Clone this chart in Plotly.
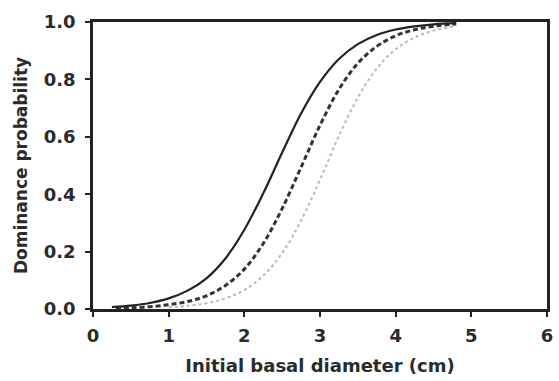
import plotly.graph_objects as go

# Initial basal diameter (cm) at which each fitted curve is sampled
diam_solid = [0.25, 0.5, 0.75, 1.0, 1.25, 1.5, 1.75, 2.0, 2.25, 2.5, 2.75, 3.0,
              3.25, 3.5, 3.75, 4.0, 4.25, 4.5, 4.8]
prob_solid = [0.007, 0.012, 0.021, 0.037, 0.064, 0.107, 0.176, 0.276, 0.403, 0.545,
              0.681, 0.791, 0.871, 0.923, 0.955, 0.974, 0.985, 0.992, 0.996]

diam_dash = [0.3, 0.5, 0.75, 1.0, 1.25, 1.5, 1.75, 2.0, 2.25, 2.5, 2.75, 3.0,
             3.25, 3.5, 3.75, 4.0, 4.25, 4.5, 4.8]
prob_dash = [0.003, 0.004, 0.008, 0.015, 0.026, 0.046, 0.082, 0.139, 0.228, 0.350,
             0.494, 0.640, 0.765, 0.856, 0.915, 0.952, 0.973, 0.985, 0.993]

diam_dot = [1.0, 1.25, 1.5, 1.75, 2.0, 2.25, 2.5, 2.75, 3.0, 3.25, 3.5, 3.75,
            4.0, 4.25, 4.5, 4.8]
prob_dot = [0.006, 0.011, 0.020, 0.037, 0.066, 0.116, 0.195, 0.308, 0.450, 0.603,
            0.737, 0.838, 0.905, 0.946, 0.970, 0.985]

x_ticks = [0, 1, 2, 3, 4, 5, 6]
y_ticks = [0.0, 0.2, 0.4, 0.6, 0.8, 1.0]

FONT = "DejaVu Sans"
INK = "#2b2b2b"

fig = go.Figure()
fig.add_trace(go.Scatter(x=diam_dot, y=prob_dot, mode="lines", line_shape="spline",
                         line=dict(color="#b8b8b8", width=2, dash="dot")))
fig.add_trace(go.Scatter(x=diam_dash, y=prob_dash, mode="lines", line_shape="spline",
                         line=dict(color="#333333", width=3, dash="5px,3px")))
fig.add_trace(go.Scatter(x=diam_solid, y=prob_solid, mode="lines", line_shape="spline",
                         line=dict(color="#222222", width=2.2)))

fig.update_layout(
    width=559, height=381,
    margin=dict(l=93, r=6, t=22, b=72),
    paper_bgcolor="white", plot_bgcolor="white",
    showlegend=False,
    font=dict(family=FONT, color=INK),
)
fig.update_xaxes(
    range=[0, 6], tickvals=x_ticks, ticktext=[str(v) for v in x_ticks],
    showgrid=False, zeroline=False,
    showline=True, linecolor="#222", linewidth=2.5, mirror=True,
    ticks="outside", ticklen=5, tickwidth=2, tickcolor="#222",
    tickfont=dict(family=FONT, size=18, color=INK, weight="bold"),
    ticklabelstandoff=4,
    title=dict(text="<b>Initial basal diameter (cm)</b>",
               font=dict(family=FONT, size=18, color=INK), standoff=15),
)
fig.update_yaxes(
    range=[0, 1], tickvals=y_ticks, ticktext=[f"{v:.1f}" for v in y_ticks],
    showgrid=False, zeroline=False,
    showline=True, linecolor="#222", linewidth=2.5, mirror=True,
    ticks="outside", ticklen=5, tickwidth=2, tickcolor="#222",
    tickfont=dict(family=FONT, size=18, color=INK, weight="bold"),
    ticklabelstandoff=6,
    title=dict(text="<b>Dominance probability</b>",
               font=dict(family=FONT, size=17, color=INK), standoff=12),
)

fig.write_html("out.html")
